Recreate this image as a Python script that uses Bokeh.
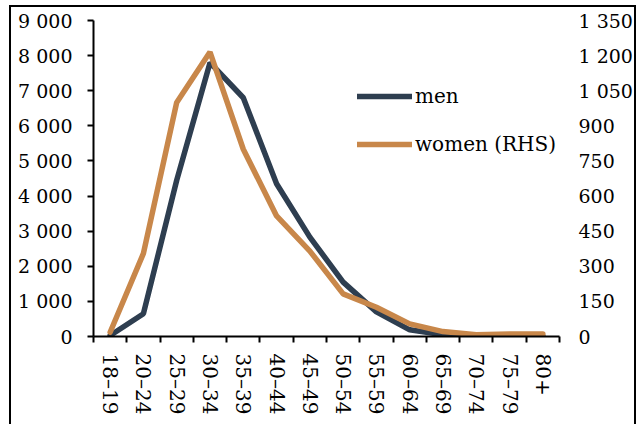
from bokeh.plotting import figure
from bokeh.models import (Range1d, LinearAxis, FixedTicker, Legend, LegendItem)
from bokeh.embed import file_html
from bokeh.resources import INLINE

# ---- data ----
age_groups = ["18–19", "20–24", "25–29", "30–34", "35–39", "40–44", "45–49",
              "50–54", "55–59", "60–64", "65–69", "70–74", "75–79", "80+"]
men = [30, 650, 4450, 7800, 6800, 4350, 2830, 1550, 700, 190, 50, 10, 5, 5]
women_rhs = [18, 355, 1000, 1215, 800, 515, 365, 182, 125, 54, 21, 8, 11, 11]

left_ticks = [0, 1000, 2000, 3000, 4000, 5000, 6000, 7000, 8000, 9000]
left_tick_labels = ["0", "1 000", "2 000", "3 000", "4 000", "5 000",
                    "6 000", "7 000", "8 000", "9 000"]
right_ticks = [0, 150, 300, 450, 600, 750, 900, 1050, 1200, 1350]
right_tick_labels = ["0", "150", "300", "450", "600", "750", "900",
                     "1 050", "1 200", "1 350"]

MEN_COLOR = "#2E3E50"
WOMEN_COLOR = "#C8874A"
FONT = "DejaVu Serif"
FS = "19px"

n = len(age_groups)
xs = list(range(n))

W, H = 642, 424
p = figure(width=W, height=H, output_backend="svg", toolbar_location=None,
           x_range=Range1d(-0.5, n - 0.5), y_range=Range1d(0, 9000),
           min_border_left=93, min_border_right=83, min_border_top=20,
           min_border_bottom=88)
# outer chart frame (left, top, right edges; the bottom edge lies below the view)
p.styles = {
    "background": ("linear-gradient(#000,#000) 9px 5px / 2px 100% no-repeat, "
                   "linear-gradient(#000,#000) 9px 5px / 627px 2px no-repeat, "
                   "linear-gradient(#000,#000) 634px 5px / 2px 100% no-repeat, "
                   "#ffffff")
}
p.outline_line_color = None
p.xgrid.visible = False
p.ygrid.visible = False
p.background_fill_color = None
p.border_fill_color = None

p.extra_y_ranges = {"women": Range1d(0, 1350)}

# x axis: labels at category centres, ticks at category boundaries
xa = p.xaxis[0]
xa.ticker = FixedTicker(ticks=xs, minor_ticks=[i - 0.5 for i in range(n + 1)])
xa.major_label_overrides = {i: lab for i, lab in enumerate(age_groups)}
xa.major_label_orientation = "vertical"
xa.major_tick_out = 0
xa.major_tick_in = 0
xa.minor_tick_out = 6
xa.minor_tick_in = 0
xa.minor_tick_line_color = "black"
xa.minor_tick_line_width = 2
xa.axis_line_color = "black"
xa.axis_line_width = 2
xa.major_label_standoff = 11
xa.major_label_text_font = FONT
xa.major_label_text_font_size = "20px"
xa.major_label_text_color = "black"

# left axis (men)
ya = p.yaxis[0]
ya.ticker = FixedTicker(ticks=left_ticks, minor_ticks=[])
ya.major_label_overrides = dict(zip(left_ticks, left_tick_labels))
ya.major_tick_out = 6
ya.major_tick_in = 0
ya.major_tick_line_width = 2
ya.major_tick_line_color = "black"
ya.minor_tick_line_color = None
ya.axis_line_color = "black"
ya.axis_line_width = 2
ya.major_label_standoff = 15
ya.major_label_text_font = FONT
ya.major_label_text_font_size = FS
ya.major_label_text_color = "black"

# right axis (women)
ra = LinearAxis(y_range_name="women",
                ticker=FixedTicker(ticks=right_ticks, minor_ticks=[]))
ra.major_label_overrides = dict(zip(right_ticks, right_tick_labels))
ra.axis_line_color = None
ra.major_tick_line_color = None
ra.minor_tick_line_color = None
ra.major_tick_out = 0
ra.major_tick_in = 0
ra.major_label_standoff = 19
ra.major_label_text_font = FONT
ra.major_label_text_font_size = FS
ra.major_label_text_color = "black"
p.add_layout(ra, "right")

r_men = p.line(xs, men, line_color=MEN_COLOR, line_width=5.5, line_cap="round")
r_women = p.line(xs, women_rhs, line_color=WOMEN_COLOR, line_width=5.5,
                 line_cap="round", y_range_name="women")

legend = Legend(items=[LegendItem(label="men", renderers=[r_men]),
                       LegendItem(label="women (RHS)", renderers=[r_women])],
                location=(264, 180), orientation="vertical")
legend.padding = 0
legend.margin = 0
legend.spacing = 24
legend.glyph_width = 55
legend.glyph_height = 20
legend.label_height = 20
legend.label_standoff = 3
legend.label_text_font = FONT
legend.label_text_font_size = "20px"
legend.label_text_color = "black"
legend.border_line_color = None
legend.background_fill_alpha = 0
p.add_layout(legend, "center")

open("out.html", "w").write(file_html(p, INLINE))
